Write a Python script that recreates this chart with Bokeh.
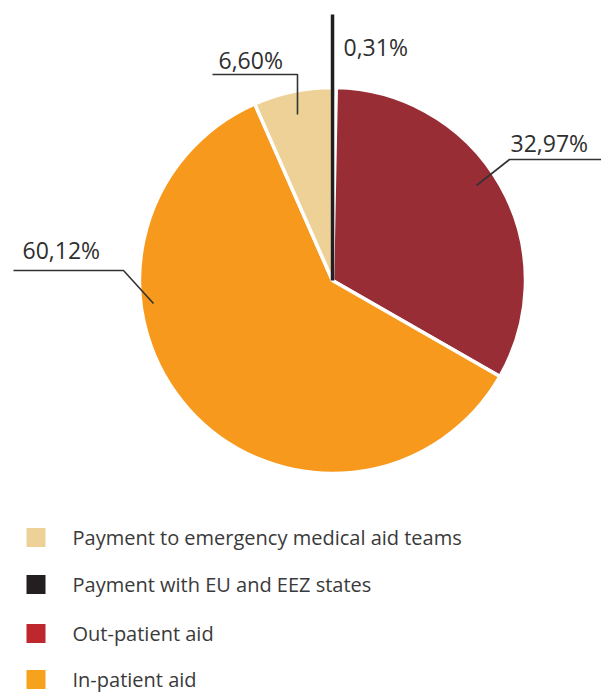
import numpy as np
from bokeh.plotting import figure
from bokeh.models import Range1d
from bokeh.core.properties import value
from bokeh.embed import file_html
from bokeh.resources import INLINE

# ---- data ----
legend_labels = ["Payment to emergency medical aid teams", "Payment with EU and EEZ states",
                 "Out-patient aid", "In-patient aid"]
legend_colors = ["#edd196", "#231f20", "#be272d", "#f7a21c"]

pie_labels = ["Payment with EU and EEZ states", "Out-patient aid", "In-patient aid",
              "Payment to emergency medical aid teams"]
pie_values = [0.31, 32.97, 60.12, 6.60]
pie_colors = ["#231f20", "#982d35", "#f7991c", "#edd196"]
pct_text = ["0,31%", "32,97%", "60,12%", "6,60%"]

# ---- layout (image pixel coords; data y = 693 - image y) ----
W, H = 601, 693
def Y(v):
    return 693 - v

cx, cy, R = 332, Y(280), 193

p = figure(width=W, height=H, x_range=Range1d(0, W), y_range=Range1d(0, H),
           output_backend="svg", toolbar_location=None, min_border=0)
p.axis.visible = False
p.grid.visible = False
p.outline_line_color = None
p.background_fill_color = "white"
p.border_fill_color = "white"

vals = np.array(pie_values)
frac = vals / vals.sum()
cum = np.concatenate([[0], np.cumsum(frac)])
start_deg = 90 - cum[:-1] * 360   # clockwise from top
end_deg = 90 - cum[1:] * 360
mid_deg = (start_deg + end_deg) / 2

p.wedge(x=[cx] * 4, y=[cy] * 4, radius=R,
        start_angle=list(np.radians(end_deg)), end_angle=list(np.radians(start_deg)),
        fill_color=pie_colors, line_color="white", line_width=3.5)

# the tiny EU slice drawn as a thick line continuing as its own leader
a = np.radians(mid_deg[0])
p.segment(x0=[cx + 2 * np.cos(a)], y0=[cy], x1=[cx + 2 * np.cos(a)], y1=[Y(14)],
          line_color=pie_colors[0], line_width=3.5)

# leader lines (annotation layout)
lead_x = [[297, 297, 212], [476, 509, 601], [153, 123, 13]]
lead_y = [[Y(114), Y(74), Y(74)], [Y(185), Y(159), Y(159)], [Y(303), Y(270), Y(270)]]
p.multi_line(xs=lead_x, ys=lead_y, line_color="#333333", line_width=1.6)

lab_x = [343, 510, 22, 218]
lab_y = [Y(46), Y(142), Y(249), Y(59)]
p.text(x=lab_x, y=lab_y, text=pct_text, text_font=value("Open Sans"),
       text_font_size="23px", text_color="#2f2f2f", text_baseline="alphabetic",
       text_align="left")

# legend
rows = [537, 584, 633, 679]
p.rect(x=[35.5] * 4, y=[Y(r) for r in rows], width=19, height=19,
       fill_color=legend_colors, line_color=None)
p.text(x=[72] * 4, y=[Y(r) for r in rows], text=legend_labels,
       text_font=value("Open Sans"), text_font_size="20px", text_color="#3a3a3a",
       text_baseline="middle", text_align="left")

open("out.html", "w").write(file_html(p, INLINE))
